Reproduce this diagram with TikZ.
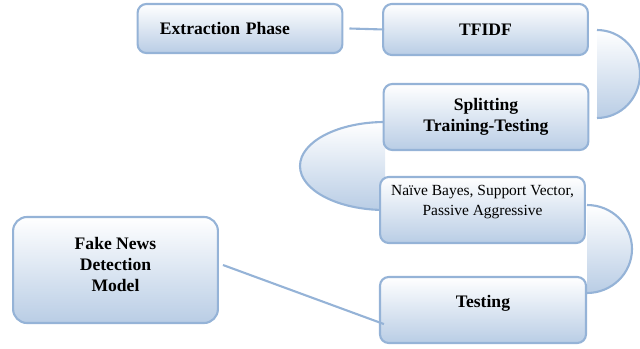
\documentclass[tikz,border=0pt]{standalone}
\usepackage{fontspec}
\setmainfont{Liberation Serif}
\usetikzlibrary{positioning, calc}
\definecolor{BoxBlue}{RGB}{149,179,215}
\definecolor{BoxFill}{RGB}{185,205,229}

\begin{document}
\begin{tikzpicture}[x=0.025cm, y=-0.025cm,
        phase/.style={draw=BoxBlue, line width=1.5pt, rounded corners=0.22cm,
            top color=white, bottom color=BoxFill, align=center, inner sep=2pt,
            font=\fontsize{12.5}{15}\selectfont\bfseries,
            minimum width=5.12cm, minimum height=1.65cm},
        bulge/.style={top color=white, bottom color=BoxFill},
        link/.style={draw=BoxBlue, line width=1.5pt}]
    \useasboundingbox (0,0) rectangle (640,349);

    % Curved links, behind the boxes
    \shade[bulge] (597,30) arc[start angle=-90, end angle=90, x radius=43, y radius=44] -- cycle;
    \draw[link] (597,30) arc[start angle=-90, end angle=90, x radius=43, y radius=44];
    \shade[bulge] (385,122) arc[start angle=-90, end angle=-270, x radius=85, y radius=44] -- cycle;
    \draw[link] (385,122) arc[start angle=-90, end angle=-270, x radius=85, y radius=44];
    \shade[bulge] (587,205) arc[start angle=-90, end angle=90, x radius=45, y radius=44] -- cycle;
    \draw[link] (587,205) arc[start angle=-90, end angle=90, x radius=45, y radius=44];

    % Boxes
    \node[phase, minimum height=1.225cm, text width=4cm, inner xsep=0.55cm, align=left] (extract) at (240,28.5) {Extraction Phase};
    \node[phase, minimum height=1.275cm] (tfidf) at (485.5,29.5) {TFIDF};
    \node[phase] (split) at (486,117) {Splitting\\Training-Testing};
    \node[phase, font=\fontsize{11}{14.2}\selectfont] (models) at (482.5,210) {Naïve Bayes, Support Vector,\\Passive Aggressive\\~};
    \node[phase, minimum width=5.15cm, text depth=0.45cm] (testing) at (483,310) {Testing};
    \node[phase, minimum height=2.65cm, rounded corners=0.35cm, text depth=0.3cm] (fake) at (115.5,270) {Fake News\\Detection\\Model};

    % Straight links
    \draw[link] ([xshift=0.15cm]extract.east) -- ([xshift=0.05cm]tfidf.west);
    \draw[link] ($(fake.east)+(4,-5)$) -- ($(testing.south west)+(5,-20)$);
\end{tikzpicture}
\end{document}
